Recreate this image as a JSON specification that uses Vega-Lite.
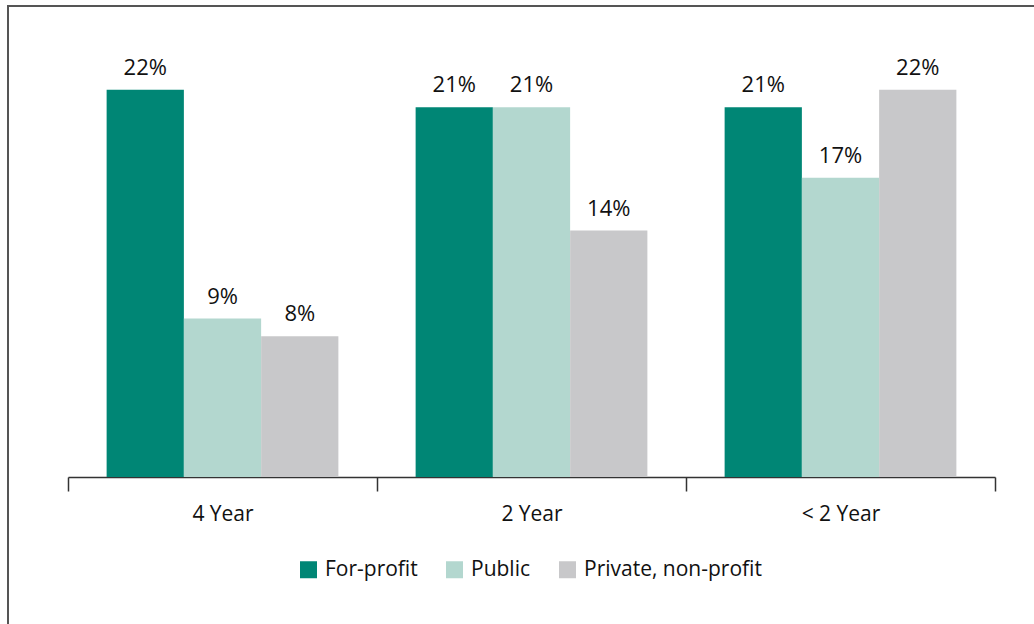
{
  "$schema": "https://vega.github.io/schema/vega-lite/v6.json",
  "autosize": {"type": "none"},
  "width": 1028,
  "height": 620,
  "padding": {"left": 8, "top": 6, "right": -2, "bottom": -2},
  "background": "white",
  "config": {
    "view": {"stroke": "#555555", "strokeWidth": 2},
    "font": "Open Sans",
    "text": {"font": "Open Sans"}
  },
  "data": {
    "values": [
      {"type": "4 Year", "sector": "For-profit", "share": 0.22},
      {"type": "4 Year", "sector": "Public", "share": 0.09},
      {"type": "4 Year", "sector": "Private, non-profit", "share": 0.08},
      {"type": "2 Year", "sector": "For-profit", "share": 0.21},
      {"type": "2 Year", "sector": "Public", "share": 0.21},
      {"type": "2 Year", "sector": "Private, non-profit", "share": 0.14},
      {"type": "< 2 Year", "sector": "For-profit", "share": 0.21},
      {"type": "< 2 Year", "sector": "Public", "share": 0.17},
      {"type": "< 2 Year", "sector": "Private, non-profit", "share": 0.22}
    ]
  },
  "encoding": {
    "x": {
      "field": "type",
      "type": "nominal",
      "sort": ["4 Year", "2 Year", "< 2 Year"],
      "scale": {"range": [60, 987], "paddingInner": 0, "paddingOuter": 0},
      "axis": {
        "title": null,
        "orient": "bottom",
        "offset": -149,
        "labelAngle": 0,
        "labelFont": "Open Sans",
        "labelFontSize": 21,
        "labelColor": "#111111",
        "labelPadding": 12,
        "tickBand": "extent",
        "tickSize": 14,
        "tickColor": "#333333",
        "tickWidth": 1.5,
        "domainColor": "#333333",
        "domainWidth": 1.5,
        "grid": false
      }
    },
    "xOffset": {
      "field": "sector",
      "type": "nominal",
      "sort": ["For-profit", "Public", "Private, non-profit"],
      "scale": {"paddingInner": 0, "paddingOuter": 0.5}
    },
    "y": {
      "field": "share",
      "type": "quantitative",
      "scale": {"domain": [-0.0847, 0.2676], "nice": false, "zero": false},
      "axis": null
    }
  },
  "layer": [
    {
      "mark": {"type": "bar"},
      "encoding": {
        "color": {
          "field": "sector",
          "type": "nominal",
          "sort": ["For-profit", "Public", "Private, non-profit"],
          "scale": {
            "domain": ["For-profit", "Public", "Private, non-profit"],
            "range": ["#008675", "#b3d7cf", "#c8c8ca"]
          },
          "legend": {
            "title": null,
            "orient": "none",
            "direction": "horizontal",
            "legendX": 290,
            "legendY": 553,
            "symbolType": "square",
            "symbolSize": 289,
            "symbolStrokeWidth": 0,
            "symbolOpacity": 1,
            "labelFont": "Open Sans",
            "labelFontSize": 21,
            "labelColor": "#111111",
            "labelOffset": 6,
            "labelLimit": 400,
            "columnPadding": 26,
            "padding": 0
          }
        }
      }
    },
    {
      "mark": {
        "type": "text",
        "baseline": "alphabetic",
        "dy": -15,
        "fontSize": 22,
        "font": "Open Sans",
        "color": "#111111"
      },
      "encoding": {
        "text": {"field": "share", "type": "quantitative", "format": ".0%"},
        "detail": {"field": "sector"}
      }
    }
  ]
}
